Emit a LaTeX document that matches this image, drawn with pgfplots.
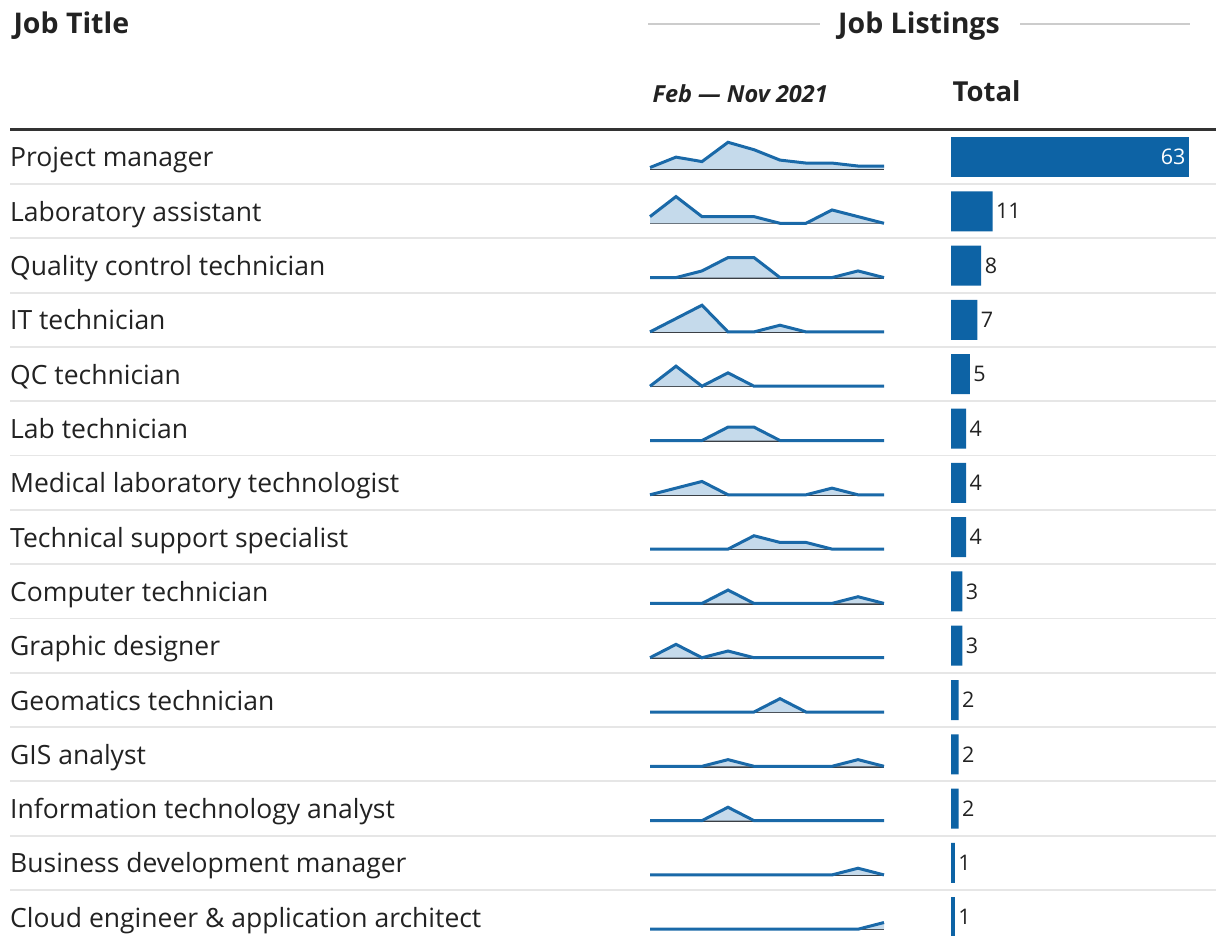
\documentclass[border=0pt]{standalone}
\usepackage{pgfplots}
\pgfplotsset{compat=1.18}
\usepackage{pgfplotstable}
\usepackage{fontspec}
\setmainfont{Open Sans}

\definecolor{ink}{HTML}{222222}
\definecolor{barblue}{HTML}{0D63A5}
\definecolor{sparkfill}{HTML}{C5DAEB}
\definecolor{sparkline}{HTML}{1A69A8}
\definecolor{baseln}{HTML}{3A3F45}
\definecolor{sepgray}{HTML}{E6E6E6}
\definecolor{rulegray}{HTML}{333333}
\definecolor{headgray}{HTML}{CCCCCC}

% monthly listings, Feb (0) to Nov (9), one column per job title
\pgfplotstableread{
m r1 r2 r3 r4 r5 r6 r7 r8 r9 r10 r11 r12 r13 r14 r15
0 1  1  0  0  0  0  0  0  0  0   0   0   0   0   0
1 8  4  0  2  3  0  1  0  0  2   0   0   0   0   0
2 5  1  1  4  0  0  2  0  0  0   0   0   0   0   0
3 18 1  3  0  2  2  0  0  2  1   0   1   2   0   0
4 13 1  3  0  0  2  0  2  0  0   0   0   0   0   0
5 6  0  0  1  0  0  0  1  0  0   2   0   0   0   0
6 4  0  0  0  0  0  0  1  0  0   0   0   0   0   0
7 4  2  0  0  0  0  1  0  0  0   0   0   0   0   0
8 2  1  1  0  0  0  0  0  1  0   0   1   0   1   0
9 2  0  0  0  0  0  0  0  0  0   0   0   0   0   1
}\spark

\pgfplotsset{
  spark/.style={
    scale only axis, width=234pt, height=26.7pt,
    xmin=0, xmax=9, ymin=0, clip=false,
    axis x line=bottom, axis y line=none,
    xtick=\empty, ytick=\empty,
    x axis line style={-, draw=baseln, line width=2.4pt},
    anchor=origin,
  },
}

\newcommand{\rowfont}{\fontsize{26.5}{30}\selectfont}
\newcommand{\numfont}{\fontsize{21.5}{24}\selectfont}

\begin{document}
\begin{tikzpicture}
\useasboundingbox (0pt,0pt) rectangle (1216pt,-936pt);

% header
\node[anchor=base west, font=\fontsize{28.5}{32}\selectfont\bfseries, text=ink] at (10pt,-34pt) {Job Title};
\node[anchor=base, font=\fontsize{28.5}{32}\selectfont\bfseries, text=ink] (jl) at (919pt,-34pt) {Job Listings};
\draw[headgray, line width=1.3pt] (648pt,-24pt) -- (820pt,-24pt);
\draw[headgray, line width=1.3pt] (1020pt,-24pt) -- (1190pt,-24pt);
\node[anchor=base west, font=\fontsize{23.5}{26}\selectfont\bfseries\itshape, text=ink] at (649pt,-103pt) {Feb — Nov 2021};
\node[anchor=base west, font=\fontsize{27.5}{32}\selectfont\bfseries, text=ink] at (949pt,-102pt) {Total};
\draw[rulegray, line width=3.5pt] (10pt,-129.5pt) -- (1216pt,-129.5pt);

% row separators
\foreach \i in {1,...,14}
  \draw[sepgray, line width=1.8pt] (10pt,{-184pt-54.3pt*(\i-1)}) -- (1216pt,{-184pt-54.3pt*(\i-1)});

% row labels
\foreach \t [count=\i] in {Project manager, Laboratory assistant, Quality control technician,
  IT technician, QC technician, Lab technician, Medical laboratory technologist,
  Technical support specialist, Computer technician, Graphic designer,
  Geomatics technician, GIS analyst, Information technology analyst,
  Business development manager, Cloud engineer \& application architect}
  \node[anchor=base west, font=\rowfont, text=ink, inner sep=0pt] at (10pt,{-167pt-54.3pt*(\i-1)}) {\t};

% sparklines
\begin{axis}[spark, ymax=18, at={(650pt,-169pt)}]
  \addplot[draw=none, fill=sparkfill] table[x=m, y=r1] {\spark} \closedcycle;
  \addplot[sparkline, line width=3pt] table[x=m, y=r1] {\spark};
\end{axis}
\foreach \i in {2,...,15} {
  \begin{axis}[spark, ymax=4, at={(650pt,{-169pt-54.3pt*(\i-1)})}]
    \addplot[draw=none, fill=sparkfill] table[x=m, y=r\i] {\spark} \closedcycle;
    \addplot[sparkline, line width=3pt] table[x=m, y=r\i] {\spark};
  \end{axis}
}

% totals
\begin{axis}[
  xbar, bar shift=0pt, bar width=40pt,
  scale only axis, width=238pt, height=814.5pt,
  xmin=0, xmax=63, ymin=0.5, ymax=15.5, y dir=reverse,
  hide axis, clip=false,
  at={(951pt,-129.85pt)}, anchor=north west,
  nodes near coords,
  /pgf/number format/assume math mode=true,
]
  \addplot[fill=barblue, draw=none,
    every node near coord/.style={anchor=east, text=white, font=\numfont}]
    coordinates {(63,1)};
  \addplot[fill=barblue, draw=none,
    every node near coord/.style={anchor=west, text=ink, font=\numfont}]
    coordinates {(11,2) (8,3) (7,4) (5,5) (4,6) (4,7) (4,8) (3,9) (3,10)
                 (2,11) (2,12) (2,13) (1,14) (1,15)};
\end{axis}
\end{tikzpicture}
\end{document}
